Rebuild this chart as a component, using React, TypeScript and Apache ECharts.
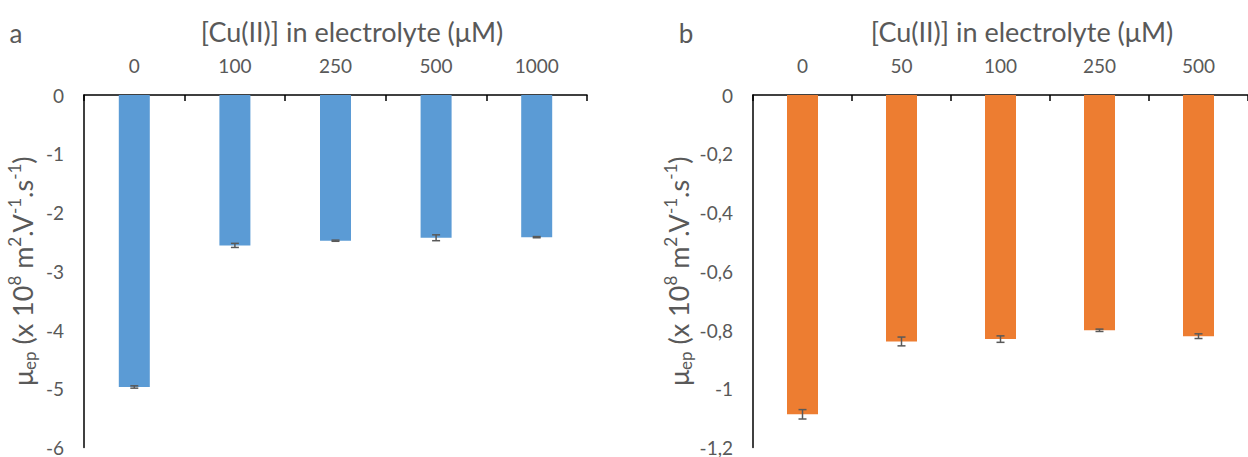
import React, { useEffect, useRef } from "react";
import * as echarts from "echarts";

const catsA = ["0", "100", "250", "500", "1000"];
const valsA = [-4.97, -2.56, -2.48, -2.43, -2.42];
const errA = [0.02, 0.035, 0.01, 0.05, 0.01];

const catsB = ["0", "50", "100", "250", "500"];
const valsB = [-1.087, -0.839, -0.831, -0.801, -0.821];
const errB = [0.016, 0.015, 0.011, 0.004, 0.008];

const xTitle = "[Cu(II)] in electrolyte (μM)";
const yName =
  "{a|μ}{b|ep}{a| (x 10}{c|8}{a| m}{c|2}{a|.V}{c|-1}{a|.s}{c|-1}{a|)}";

const FONT = "Lato";
const TXT = "#595959";
const BLUE = "#5B9BD5";
const ORANGE = "#ED7D31";

function errSeries(xIdx: number, vals: number[], errs: number[]) {
  return {
    type: "custom",
    xAxisIndex: xIdx,
    yAxisIndex: xIdx,
    z: 5,
    data: vals.map((v, i) => [i, v, errs[i]]),
    encode: { x: 0, y: 1 },
    renderItem: (params: any, api: any) => {
      const i = api.value(0);
      const v = api.value(1);
      const e = api.value(2);
      const t = api.coord([i, v + e]);
      const b = api.coord([i, v - e]);
      const cx = t[0];
      const st = { stroke: TXT, lineWidth: 1.5 };
      return {
        type: "group",
        children: [
          { type: "line", shape: { x1: cx, y1: t[1], x2: cx, y2: b[1] }, style: st },
          { type: "line", shape: { x1: cx - 4, y1: t[1], x2: cx + 4, y2: t[1] }, style: st },
          { type: "line", shape: { x1: cx - 4, y1: b[1], x2: cx + 4, y2: b[1] }, style: st },
        ],
      };
    },
  };
}

const richName = {
  a: { fontSize: 27, color: TXT, fontFamily: FONT, lineHeight: 32 },
  b: { fontSize: 17, color: TXT, fontFamily: FONT, lineHeight: 18, verticalAlign: "bottom" },
  c: { fontSize: 17, color: TXT, fontFamily: FONT, lineHeight: 18, verticalAlign: "top" },
};

function xAxis(gi: number, cats: string[]) {
  return {
    type: "category",
    gridIndex: gi,
    position: "top",
    data: cats,
    axisLine: { show: true, lineStyle: { color: "#000", width: 1.5 } },
    axisTick: { show: true, inside: true, length: 6, alignWithLabel: false, lineStyle: { color: "#000", width: 1.5 } },
    axisLabel: { color: TXT, fontSize: 19, fontFamily: FONT, margin: 20 },
    splitLine: { show: false },
  };
}

export default function App() {
  const ref = useRef<HTMLDivElement>(null);
  useEffect(() => {
    if (!ref.current) return;
    const chart = echarts.init(ref.current, undefined, { renderer: "svg" });
    chart.setOption({
      animation: false,
      backgroundColor: "#fff",
      textStyle: { fontFamily: FONT },
      grid: [
        { left: 84, top: 95, width: 503, height: 355 },
        { left: 753, top: 95, width: 503, height: 355 },
      ],
      xAxis: [xAxis(0, catsA), xAxis(1, catsB)],
      yAxis: [
        {
          type: "value",
          gridIndex: 0,
          min: -6,
          max: 0,
          interval: 1,
          axisLine: { show: true, lineStyle: { color: "#000", width: 1.5 } },
          axisTick: { show: false },
          splitLine: { show: false },
          axisLabel: { color: TXT, fontSize: 19, fontFamily: FONT, margin: 20 },
          name: yName,
          nameLocation: "middle",
          nameGap: 46,
          nameRotate: 90,
          nameTextStyle: { rich: richName },
        },
        {
          type: "value",
          gridIndex: 1,
          min: -1.2,
          max: 0,
          interval: 0.2,
          axisLine: { show: true, lineStyle: { color: "#000", width: 1.5 } },
          axisTick: { show: false },
          splitLine: { show: false },
          axisLabel: {
            color: TXT,
            fontSize: 19,
            fontFamily: FONT,
            margin: 20,
            formatter: (v: number) =>
              Math.abs(v) < 1e-9 ? "0" : String(+v.toFixed(1)).replace(".", ","),
          },
          name: yName,
          nameLocation: "middle",
          nameGap: 59,
          nameRotate: 90,
          nameTextStyle: { rich: richName },
        },
      ],
      series: [
        { type: "bar", xAxisIndex: 0, yAxisIndex: 0, data: valsA, barWidth: 31, itemStyle: { color: BLUE } },
        { type: "bar", xAxisIndex: 1, yAxisIndex: 1, data: valsB, barWidth: 31, itemStyle: { color: ORANGE } },
        errSeries(0, valsA, errA),
        errSeries(1, valsB, errB),
      ],
      graphic: [
        { type: "text", x: 16, y: 33, style: { text: "a", fontSize: 26, fill: TXT, fontFamily: FONT, align: "center", verticalAlign: "middle" } },
        { type: "text", x: 686, y: 33, style: { text: "b", fontSize: 26, fill: TXT, fontFamily: FONT, align: "center", verticalAlign: "middle" } },
        { type: "text", x: 352, y: 31, style: { text: xTitle, fontSize: 27, fill: TXT, fontFamily: FONT, align: "center", verticalAlign: "middle" } },
        { type: "text", x: 1022, y: 31, style: { text: xTitle, fontSize: 27, fill: TXT, fontFamily: FONT, align: "center", verticalAlign: "middle" } },
      ],
    });
    return () => chart.dispose();
  }, []);
  return (
    <div
      ref={ref}
      style={{ position: "absolute", left: 0, top: 0, width: 1248, height: 457 }}
    />
  );
}
